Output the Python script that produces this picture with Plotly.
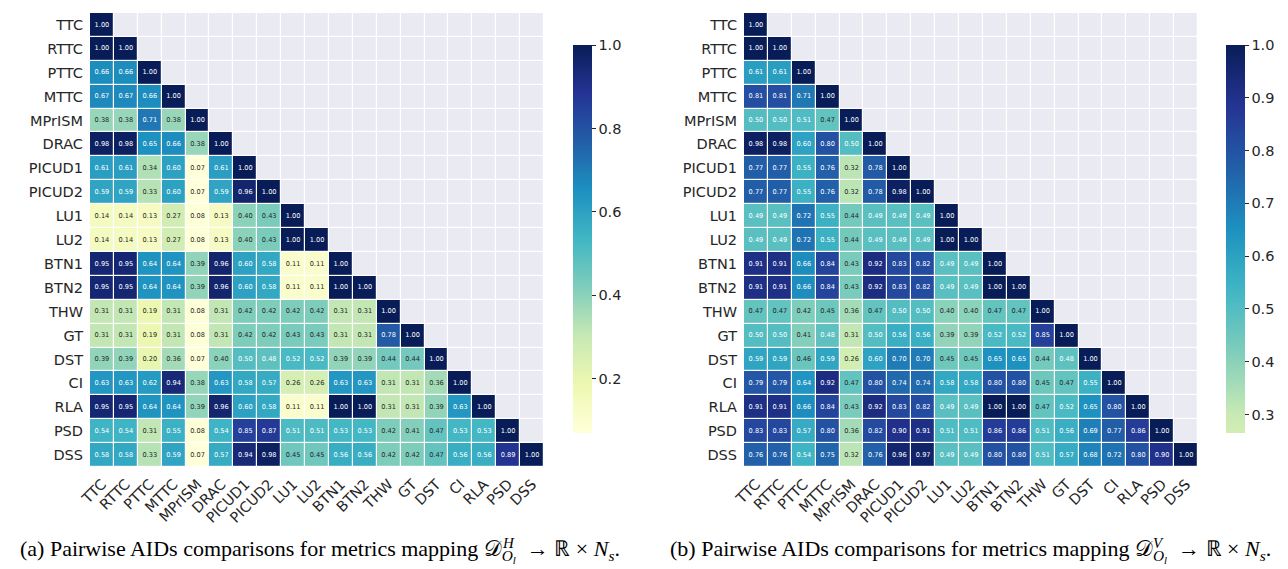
import plotly.graph_objects as go

metrics = ["TTC", "RTTC", "PTTC", "MTTC", "MPrISM", "DRAC", "PICUD1", "PICUD2", "LU1", "LU2",
           "BTN1", "BTN2", "THW", "GT", "DST", "CI", "RLA", "PSD", "DSS"]

# Lower-triangle rows (including diagonal), left panel (H mapping)
h_rows = [
    [1.00],
    [1.00, 1.00],
    [0.66, 0.66, 1.00],
    [0.67, 0.67, 0.66, 1.00],
    [0.38, 0.38, 0.71, 0.38, 1.00],
    [0.98, 0.98, 0.65, 0.66, 0.38, 1.00],
    [0.61, 0.61, 0.34, 0.60, 0.07, 0.61, 1.00],
    [0.59, 0.59, 0.33, 0.60, 0.07, 0.59, 0.96, 1.00],
    [0.14, 0.14, 0.13, 0.27, 0.08, 0.13, 0.40, 0.43, 1.00],
    [0.14, 0.14, 0.13, 0.27, 0.08, 0.13, 0.40, 0.43, 1.00, 1.00],
    [0.95, 0.95, 0.64, 0.64, 0.39, 0.96, 0.60, 0.58, 0.11, 0.11, 1.00],
    [0.95, 0.95, 0.64, 0.64, 0.39, 0.96, 0.60, 0.58, 0.11, 0.11, 1.00, 1.00],
    [0.31, 0.31, 0.19, 0.31, 0.08, 0.31, 0.42, 0.42, 0.42, 0.42, 0.31, 0.31, 1.00],
    [0.31, 0.31, 0.19, 0.31, 0.08, 0.31, 0.42, 0.42, 0.43, 0.43, 0.31, 0.31, 0.78, 1.00],
    [0.39, 0.39, 0.20, 0.36, 0.07, 0.40, 0.50, 0.48, 0.52, 0.52, 0.39, 0.39, 0.44, 0.44, 1.00],
    [0.63, 0.63, 0.62, 0.94, 0.38, 0.63, 0.58, 0.57, 0.26, 0.26, 0.63, 0.63, 0.31, 0.31, 0.36, 1.00],
    [0.95, 0.95, 0.64, 0.64, 0.39, 0.96, 0.60, 0.58, 0.11, 0.11, 1.00, 1.00, 0.31, 0.31, 0.39, 0.63, 1.00],
    [0.54, 0.54, 0.31, 0.55, 0.08, 0.54, 0.85, 0.87, 0.51, 0.51, 0.53, 0.53, 0.42, 0.41, 0.47, 0.53, 0.53, 1.00],
    [0.58, 0.58, 0.33, 0.59, 0.07, 0.57, 0.94, 0.98, 0.45, 0.45, 0.56, 0.56, 0.42, 0.42, 0.47, 0.56, 0.56, 0.89, 1.00],
]

# Lower-triangle rows, right panel (V mapping)
v_rows = [
    [1.00],
    [1.00, 1.00],
    [0.61, 0.61, 1.00],
    [0.81, 0.81, 0.71, 1.00],
    [0.50, 0.50, 0.51, 0.47, 1.00],
    [0.98, 0.98, 0.60, 0.80, 0.50, 1.00],
    [0.77, 0.77, 0.55, 0.76, 0.32, 0.78, 1.00],
    [0.77, 0.77, 0.55, 0.76, 0.32, 0.78, 0.98, 1.00],
    [0.49, 0.49, 0.72, 0.55, 0.44, 0.49, 0.49, 0.49, 1.00],
    [0.49, 0.49, 0.72, 0.55, 0.44, 0.49, 0.49, 0.49, 1.00, 1.00],
    [0.91, 0.91, 0.66, 0.84, 0.43, 0.92, 0.83, 0.82, 0.49, 0.49, 1.00],
    [0.91, 0.91, 0.66, 0.84, 0.43, 0.92, 0.83, 0.82, 0.49, 0.49, 1.00, 1.00],
    [0.47, 0.47, 0.42, 0.45, 0.36, 0.47, 0.50, 0.50, 0.40, 0.40, 0.47, 0.47, 1.00],
    [0.50, 0.50, 0.41, 0.48, 0.31, 0.50, 0.56, 0.56, 0.39, 0.39, 0.52, 0.52, 0.85, 1.00],
    [0.59, 0.59, 0.46, 0.59, 0.26, 0.60, 0.70, 0.70, 0.45, 0.45, 0.65, 0.65, 0.44, 0.48, 1.00],
    [0.79, 0.79, 0.64, 0.92, 0.47, 0.80, 0.74, 0.74, 0.58, 0.58, 0.80, 0.80, 0.45, 0.47, 0.55, 1.00],
    [0.91, 0.91, 0.66, 0.84, 0.43, 0.92, 0.83, 0.82, 0.49, 0.49, 1.00, 1.00, 0.47, 0.52, 0.65, 0.80, 1.00],
    [0.83, 0.83, 0.57, 0.80, 0.36, 0.82, 0.90, 0.91, 0.51, 0.51, 0.86, 0.86, 0.51, 0.56, 0.69, 0.77, 0.86, 1.00],
    [0.76, 0.76, 0.54, 0.75, 0.32, 0.76, 0.96, 0.97, 0.49, 0.49, 0.80, 0.80, 0.51, 0.57, 0.68, 0.72, 0.80, 0.90, 1.00],
]

h_ticks = [0.2, 0.4, 0.6, 0.8, 1.0]
v_ticks = [0.3, 0.4, 0.5, 0.6, 0.7, 0.8, 0.9, 1.0]
h_range = (0.07, 1.0)
v_range = (0.265, 1.0)

caption_a = ("(a) Pairwise AIDs comparisons for metrics mapping "
             "𝒟<sub><i>O<sub>l</sub></i></sub>  → ℝ × <i>N<sub>s</sub></i>.")
caption_b = ("(b) Pairwise AIDs comparisons for metrics mapping "
             "𝒟<sub><i>O<sub>l</sub></i></sub>  → ℝ × <i>N<sub>s</sub></i>.")
sup_a = "<i>H</i>"
sup_b = "<i>V</i>"

# ---------------------------------------------------------------------------
YLGNBU = ['#ffffd9', '#edf8b1', '#c7e9b4', '#7fcdbb', '#41b6c4',
          '#1d91c0', '#225ea8', '#253494', '#081d58']


def hex2rgb(h):
    h = h.lstrip('#')
    return [int(h[i:i + 2], 16) for i in (0, 2, 4)]


def sample(t):
    t = min(max(t, 0.0), 1.0)
    n = len(YLGNBU) - 1
    k = min(int(t * n), n - 1)
    f = t * n - k
    a, b = hex2rgb(YLGNBU[k]), hex2rgb(YLGNBU[k + 1])
    return 'rgb(%d,%d,%d)' % tuple(round(a[i] + (b[i] - a[i]) * f) for i in range(3))


# global norm (both panels share the colour mapping)
GMIN, GMAX = h_range


def scale_for(lo, hi, n=40):
    out = []
    for i in range(n + 1):
        s = i / n
        v = lo + (hi - lo) * s
        out.append([s, sample((v - GMIN) / (GMAX - GMIN))])
    return out


N = len(metrics)


def full(rows):
    z = [[None] * N for _ in range(N)]
    for i, r in enumerate(rows):
        for j, v in enumerate(r):
            z[i][j] = v
    return z


def mask():
    return [[1 if j > i else None for j in range(N)] for i in range(N)]


fig = go.Figure()

panels = [
    (h_rows, 'x', 'y', 'coloraxis'),
    (v_rows, 'x2', 'y2', 'coloraxis2'),
]
for rows, xa, ya, ca in panels:
    fig.add_trace(go.Heatmap(z=mask(), x=metrics, y=metrics, xaxis=xa, yaxis=ya,
                             colorscale=[[0, '#eaeaf2'], [1, '#eaeaf2']], showscale=False,
                             xgap=1.2, ygap=1.2, hoverinfo='skip'))
    fig.add_trace(go.Heatmap(z=full(rows), x=metrics, y=metrics, xaxis=xa, yaxis=ya,
                             coloraxis=ca, xgap=1.2, ygap=1.2))
    tx, ty, tt, tc = [], [], [], []
    for i, r in enumerate(rows):
        for j, v in enumerate(r):
            tx.append(metrics[j])
            ty.append(metrics[i])
            tt.append('%.2f' % v)
            tc.append('#ffffff' if v >= 0.475 else '#262626')
    fig.add_trace(go.Scatter(x=tx, y=ty, text=tt, mode='text', xaxis=xa, yaxis=ya,
                             textfont=dict(size=6.6, color=tc, family='DejaVu Sans'),
                             showlegend=False, hoverinfo='skip'))

W, H = 1288, 569
tickfont = dict(family='DejaVu Sans', size=14.5, color='#262626')


def ax(domain, anchor, rev=False, angle=None):
    d = dict(domain=domain, anchor=anchor, showgrid=False, zeroline=False, showline=False,
             ticks='', tickfont=tickfont, type='category', categoryorder='array',
             categoryarray=metrics, automargin=False)
    if rev:
        d['range'] = [N - 0.5, -0.5]
        d['ticklabelstandoff'] = 6
    else:
        d['range'] = [-0.5, N - 0.5]
        d['ticklabelstandoff'] = 5
    if angle is not None:
        d['tickangle'] = angle
    return d


ydom = [1 - 459 / H, 1 - 5 / H]
cb_common = dict(thickness=19, len=388 / H, lenmode='fraction', y=1 - 231 / H, yanchor='middle',
                 xanchor='left', outlinewidth=0, ticks='outside', ticklen=4, tickwidth=1,
                 tickcolor='#262626', tickfont=tickfont, tickformat='.1f', xpad=0, ypad=0)

cap_font = dict(family='Liberation Serif', size=22, color='black')
sup_font = dict(family='Liberation Serif', size=15, color='black')


def cap(text, x, y, font, anchor='left'):
    return dict(text=text, x=x / W, y=1 - y / H, xref='paper', yref='paper', showarrow=False,
                xanchor=anchor, yanchor='middle', font=font)


fig.update_layout(
    width=W, height=H, margin=dict(l=0, r=0, t=0, b=0, autoexpand=False),
    paper_bgcolor='white', plot_bgcolor='white', showlegend=False,
    xaxis=ax([82 / W, 536 / W], 'y', angle=-45),
    yaxis=ax(ydom, 'x', rev=True),
    xaxis2=ax([736 / W, 1190 / W], 'y2', angle=-45),
    yaxis2=ax(ydom, 'x2', rev=True),
    coloraxis=dict(cmin=h_range[0], cmax=h_range[1], colorscale=scale_for(*h_range),
                   colorbar=dict(x=565 / W, tickvals=h_ticks, **cb_common)),
    coloraxis2=dict(cmin=v_range[0], cmax=v_range[1], colorscale=scale_for(*v_range),
                    colorbar=dict(x=1218 / W, tickvals=v_ticks, **cb_common)),
    annotations=[
        cap(caption_a, 10, 543, cap_font),
        cap(caption_b, 660, 543, cap_font),
        cap(sup_a, 500, 535, sup_font, 'center'),
        cap(sup_b, 1150, 535, sup_font, 'center'),
    ],
)

fig.write_html("out.html")
